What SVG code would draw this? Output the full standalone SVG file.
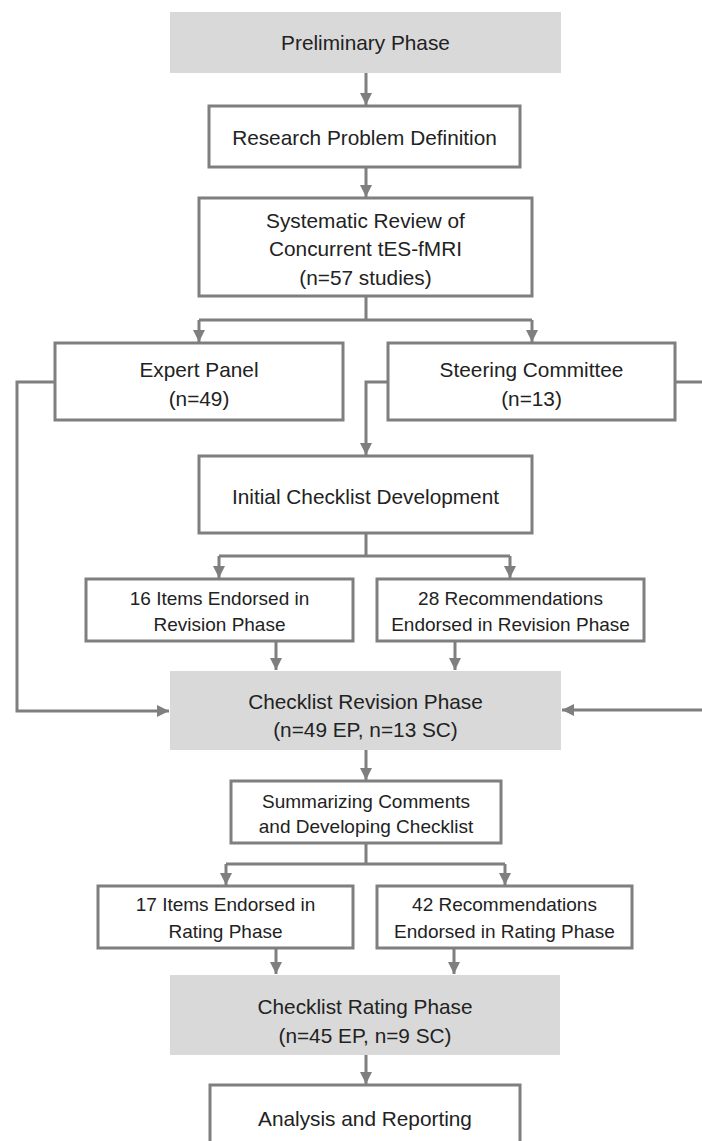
<svg xmlns="http://www.w3.org/2000/svg" width="702" height="1141" viewBox="0 0 702 1141">
<style>
.box{fill:#ffffff;stroke:#7f7f7f;stroke-width:3}
.gbox{fill:#d9d9d9;stroke:none}
.t{font-family:"Liberation Sans",Arial,sans-serif;font-size:20.8px;fill:#222222;text-anchor:middle}
.s{font-family:"Liberation Sans",Arial,sans-serif;font-size:19px;fill:#222222;text-anchor:middle}
.c{fill:none;stroke:#7f7f7f;stroke-width:3}
.a{marker-end:url(#arr)}
</style>
<defs>
<marker id="arr" viewBox="0 0 12 12" refX="12" refY="6" markerWidth="12" markerHeight="12" markerUnits="userSpaceOnUse" orient="auto">
<path d="M0,0 L12,6 L0,12 z" fill="#7f7f7f"/>
</marker>
</defs>
<rect width="702" height="1141" fill="#ffffff"/>
<g id="connectors">
<path class="c a" d="M366,73 V105"/>
<path class="c a" d="M366,167 V197"/>
<path class="c" d="M366,296 V320 M199,320 H532"/>
<path class="c a" d="M199,320 V342"/>
<path class="c a" d="M532,320 V342"/>
<path class="c a" d="M55,382 H17 V711 H169"/>
<path class="c a" d="M388,382 H366 V455"/>
<path class="c" d="M675,382 H704"/>
<path class="c a" d="M704,710 H562"/>
<path class="c" d="M366,533 V556 M219,556 H510"/>
<path class="c a" d="M219,556 V578"/>
<path class="c a" d="M510,556 V578"/>
<path class="c a" d="M276,641 V670"/>
<path class="c a" d="M455,641 V670"/>
<path class="c a" d="M366,750 V780"/>
<path class="c" d="M366,843 V864 M226,864 H505"/>
<path class="c a" d="M226,864 V885"/>
<path class="c a" d="M505,864 V885"/>
<path class="c a" d="M276,948 V974"/>
<path class="c a" d="M454,948 V974"/>
<path class="c a" d="M366,1055 V1084"/>
</g>
<g id="preliminary">
<rect class="gbox" x="170" y="12" width="391" height="61"/>
<text class="t" x="365.5" y="49.5">Preliminary Phase</text>
</g>
<g id="research">
<rect class="box" x="209" y="106" width="311" height="61"/>
<text class="t" x="364.5" y="144.5">Research Problem Definition</text>
</g>
<g id="systematic">
<rect class="box" x="199" y="198" width="333" height="98"/>
<text class="t" x="365.5" y="227.5">Systematic Review of</text>
<text class="t" x="365.5" y="256">Concurrent tES-fMRI</text>
<text class="t" x="365.5" y="284.5">(n=57 studies)</text>
</g>
<g id="expert">
<rect class="box" x="55" y="343" width="288" height="77"/>
<text class="t" x="199" y="376.5">Expert Panel</text>
<text class="t" x="199" y="405.5">(n=49)</text>
</g>
<g id="steering">
<rect class="box" x="388" y="343" width="287" height="77"/>
<text class="t" x="531.5" y="376.5">Steering Committee</text>
<text class="t" x="531.5" y="405.5">(n=13)</text>
</g>
<g id="initial">
<rect class="box" x="199" y="456" width="333" height="77"/>
<text class="t" x="365.5" y="503.5">Initial Checklist Development</text>
</g>
<g id="items16">
<rect class="box" x="86" y="579" width="267" height="62"/>
<text class="s" x="219.5" y="605">16 Items Endorsed in</text>
<text class="s" x="219.5" y="631">Revision Phase</text>
</g>
<g id="rec28">
<rect class="box" x="377" y="579" width="267" height="62"/>
<text class="s" x="510.5" y="605">28 Recommendations</text>
<text class="s" x="510.5" y="631">Endorsed in Revision Phase</text>
</g>
<g id="revision">
<rect class="gbox" x="170" y="671" width="391" height="79"/>
<text class="t" x="365.5" y="708.5">Checklist Revision Phase</text>
<text class="t" x="365.5" y="736.5">(n=49 EP, n=13 SC)</text>
</g>
<g id="summarizing">
<rect class="box" x="231" y="781" width="270" height="62"/>
<text class="s" x="366" y="808">Summarizing Comments</text>
<text class="s" x="366" y="833">and Developing Checklist</text>
</g>
<g id="items17">
<rect class="box" x="98" y="886" width="255" height="62"/>
<text class="s" x="225.5" y="911">17 Items Endorsed in</text>
<text class="s" x="225.5" y="938">Rating Phase</text>
</g>
<g id="rec42">
<rect class="box" x="377" y="886" width="255" height="62"/>
<text class="s" x="504.5" y="911">42 Recommendations</text>
<text class="s" x="504.5" y="938">Endorsed in Rating Phase</text>
</g>
<g id="rating">
<rect class="gbox" x="170" y="975" width="390" height="80"/>
<text class="t" x="365" y="1013.5">Checklist Rating Phase</text>
<text class="t" x="365" y="1042.5">(n=45 EP, n=9 SC)</text>
</g>
<g id="analysis">
<rect class="box" x="210" y="1085" width="310" height="80"/>
<text class="t" x="365" y="1125.5">Analysis and Reporting</text>
</g>
</svg>
